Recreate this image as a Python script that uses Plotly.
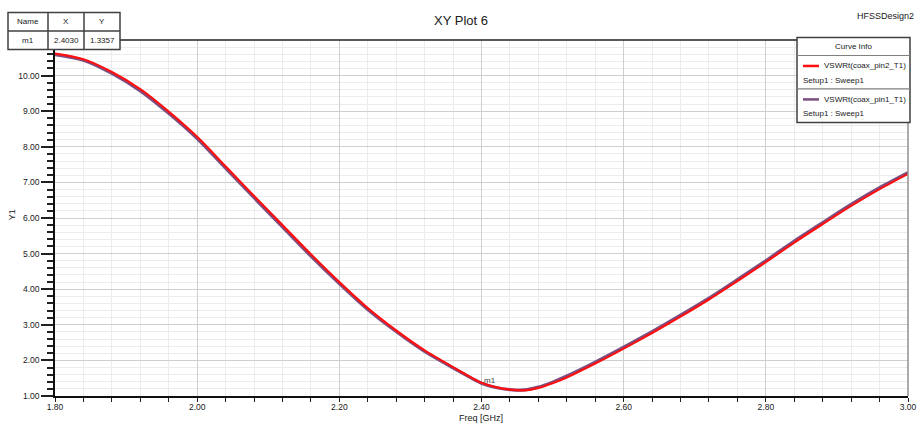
import plotly.graph_objects as go

# ---- data ----
freq_ghz = [1.80, 1.84, 1.88, 1.92, 1.96, 2.00, 2.04, 2.08, 2.12, 2.16, 2.20,
            2.24, 2.28, 2.32, 2.36, 2.40, 2.42, 2.44, 2.46, 2.48, 2.50, 2.52,
            2.56, 2.60, 2.64, 2.68, 2.72, 2.76, 2.80, 2.84, 2.88, 2.92, 2.96, 3.00]
vswr_pin2 = [10.62, 10.46, 10.10, 9.62, 8.99, 8.28, 7.45, 6.62, 5.80, 4.98, 4.20,
             3.47, 2.84, 2.28, 1.81, 1.37, 1.25, 1.18, 1.16, 1.23, 1.36, 1.52,
             1.91, 2.33, 2.77, 3.23, 3.71, 4.23, 4.76, 5.31, 5.83, 6.34, 6.81, 7.24]
vswr_pin1 = [10.59, 10.43, 10.06, 9.57, 8.94, 8.23, 7.40, 6.57, 5.75, 4.93, 4.16,
             3.43, 2.81, 2.25, 1.79, 1.36, 1.24, 1.18, 1.17, 1.25, 1.39, 1.56,
             1.95, 2.37, 2.81, 3.27, 3.75, 4.27, 4.80, 5.35, 5.87, 6.38, 6.85, 7.27]
curve_names = ["VSWRt(coax_pin2_T1)", "VSWRt(coax_pin1_T1)"]
curve_setup = ["Setup1 : Sweep1", "Setup1 : Sweep1"]
curve_colors = ["#ff1010", "#7a4f80"]
marker_name = "m1"
marker_x = 2.4030
marker_y = 1.3357
x_ticks = [1.80, 2.00, 2.20, 2.40, 2.60, 2.80, 3.00]
y_ticks = [1, 2, 3, 4, 5, 6, 7, 8, 9, 10]

FONT = "Liberation Sans, Arial, sans-serif"
TXT = "#202020"

# plot area in pixels
W, H = 917, 423
L, R, T, B = 55, 908, 39.5, 396


def px(x):
    return (x - L) / (R - L)


def py(y):
    return (B - y) / (B - T)


fig = go.Figure()
fig.add_trace(go.Scatter(x=freq_ghz, y=vswr_pin1, mode="lines", name=curve_names[1],
                         line=dict(color=curve_colors[1], width=3.2, shape="spline", smoothing=0.8)))
fig.add_trace(go.Scatter(x=freq_ghz, y=vswr_pin2, mode="lines", name=curve_names[0],
                         line=dict(color=curve_colors[0], width=2.2, shape="spline", smoothing=0.8)))

shapes = []
annotations = []

# frame top (dark) and right (gray)
shapes.append(dict(type="line", xref="paper", yref="paper", x0=0, x1=1, y0=1, y1=1,
                   line=dict(color="#202020", width=1.5), layer="above"))
shapes.append(dict(type="line", xref="paper", yref="paper", x0=1, x1=1, y0=0, y1=1,
                   line=dict(color="#909090", width=1.5), layer="above"))

# marker table
tb_l, tb_r, tb_t, tb_m, tb_b = 8, 120, 12, 30.5, 49
col1, col2 = 48, 84
bc = "#404040"
shapes.append(dict(type="rect", xref="paper", yref="paper", x0=px(tb_l), x1=px(tb_r),
                   y0=py(tb_b), y1=py(tb_t), fillcolor="white", line=dict(color=bc, width=1.5),
                   layer="above"))
shapes.append(dict(type="line", xref="paper", yref="paper", x0=px(tb_l), x1=px(tb_r),
                   y0=py(tb_m), y1=py(tb_m), line=dict(color=bc, width=1.5), layer="above"))
for c in (col1, col2):
    shapes.append(dict(type="line", xref="paper", yref="paper", x0=px(c), x1=px(c),
                       y0=py(tb_b), y1=py(tb_t), line=dict(color=bc, width=1.5), layer="above"))
cells = [["Name", "X", "Y"], [marker_name, f"{marker_x:.4f}", f"{marker_y:.4f}"]]
cx = [(tb_l + col1) / 2, (col1 + col2) / 2, (col2 + tb_r) / 2]
cy = [(tb_t + tb_m) / 2, (tb_m + tb_b) / 2]
for r in range(2):
    for c in range(3):
        annotations.append(dict(text=cells[r][c], xref="paper", yref="paper", x=px(cx[c]), y=py(cy[r]),
                                showarrow=False, xanchor="center", yanchor="middle",
                                font=dict(family=FONT, size=8, color=TXT)))

# legend box
lg_l, lg_r, lg_t, lg_h, lg_m, lg_b = 797, 910, 37, 55, 88.5, 122
shapes.append(dict(type="rect", xref="paper", yref="paper", x0=px(lg_l), x1=px(lg_r),
                   y0=py(lg_b), y1=py(lg_t), fillcolor="white", line=dict(color=bc, width=1.5),
                   layer="above"))
for yy in (lg_h, lg_m):
    shapes.append(dict(type="line", xref="paper", yref="paper", x0=px(lg_l), x1=px(lg_r),
                       y0=py(yy), y1=py(yy), line=dict(color="#808080", width=1.2), layer="above"))
annotations.append(dict(text="Curve Info", xref="paper", yref="paper", x=px((lg_l + lg_r) / 2),
                        y=py((lg_t + lg_h) / 2), showarrow=False, xanchor="center", yanchor="middle",
                        font=dict(family=FONT, size=8, color=TXT)))
for i, (top, bot) in enumerate([(lg_h, lg_m), (lg_m, lg_b)]):
    ly = top + 10.5
    shapes.append(dict(type="line", xref="paper", yref="paper", x0=px(803), x1=px(819),
                       y0=py(ly), y1=py(ly), line=dict(color=curve_colors[i], width=2.5), layer="above"))
    annotations.append(dict(text=curve_names[i], xref="paper", yref="paper", x=px(822), y=py(ly),
                            showarrow=False, xanchor="left", yanchor="middle",
                            font=dict(family=FONT, size=8, color=TXT)))
    annotations.append(dict(text=curve_setup[i], xref="paper", yref="paper", x=px(801), y=py(ly + 14.5),
                            showarrow=False, xanchor="left", yanchor="middle",
                            font=dict(family=FONT, size=8, color=TXT)))

# marker label
annotations.append(dict(text=marker_name, x=marker_x, y=marker_y, xref="x", yref="y",
                        showarrow=False, xanchor="left", yanchor="bottom", xshift=-2, yshift=-3,
                        font=dict(family=FONT, size=8, color="#404040")))

# title & design name
annotations.append(dict(text="XY Plot 6", xref="paper", yref="paper", x=px(461), y=py(20),
                        showarrow=False, xanchor="center", yanchor="middle",
                        font=dict(family=FONT, size=13, color=TXT)))
annotations.append(dict(text="HFSSDesign2", xref="paper", yref="paper", x=px(916), y=py(15),
                        showarrow=False, xanchor="right", yanchor="middle",
                        font=dict(family=FONT, size=9, color=TXT)))

# axis titles
annotations.append(dict(text="Freq [GHz]", xref="paper", yref="paper", x=px(481), y=py(418),
                        showarrow=False, xanchor="center", yanchor="middle",
                        font=dict(family=FONT, size=9, color=TXT)))
annotations.append(dict(text="Y1", xref="paper", yref="paper", x=px(12), y=py(215),
                        showarrow=False, xanchor="center", yanchor="middle", textangle=-90,
                        font=dict(family=FONT, size=9, color=TXT)))

fig.update_layout(
    width=W, height=H,
    margin=dict(l=L, r=W - R, t=T, b=H - B, autoexpand=False),
    paper_bgcolor="white", plot_bgcolor="white",
    showlegend=False,
    shapes=shapes, annotations=annotations,
    font=dict(family=FONT, size=8.5, color=TXT),
)
fig.update_xaxes(
    range=[1.8, 3.0], tickvals=x_ticks, tickformat=".2f", automargin=False,
    ticklabeloverflow="allow", ticklabelstandoff=-2,
    showgrid=True, gridcolor="#cfcfcf", gridwidth=1,
    ticks="outside", ticklen=4, tickcolor="#202020",
    showline=True, linecolor="#101010", linewidth=1.5,
    minor=dict(dtick=0.04, showgrid=True, gridcolor="#ececec", ticks="outside", ticklen=4,
               tickcolor="#202020"),
    zeroline=False,
    tickfont=dict(family=FONT, size=8.5, color=TXT),
)
fig.update_yaxes(
    range=[1, 11], tickvals=y_ticks, tickformat=".2f", automargin=False,
    showgrid=True, gridcolor="#cfcfcf", gridwidth=1,
    ticks="outside", ticklen=12, tickcolor="#202020", tickwidth=1.5,
    showline=True, linecolor="#101010", linewidth=1.5,
    minor=dict(dtick=0.2, showgrid=True, gridcolor="#ececec", ticks="outside", ticklen=6,
               tickcolor="#202020", tickwidth=1.5),
    zeroline=False,
    tickfont=dict(family=FONT, size=8.5, color=TXT),
)

fig.write_html("out.html", config={"displayModeBar": False},
               post_script="document.body.style.margin='0';")
